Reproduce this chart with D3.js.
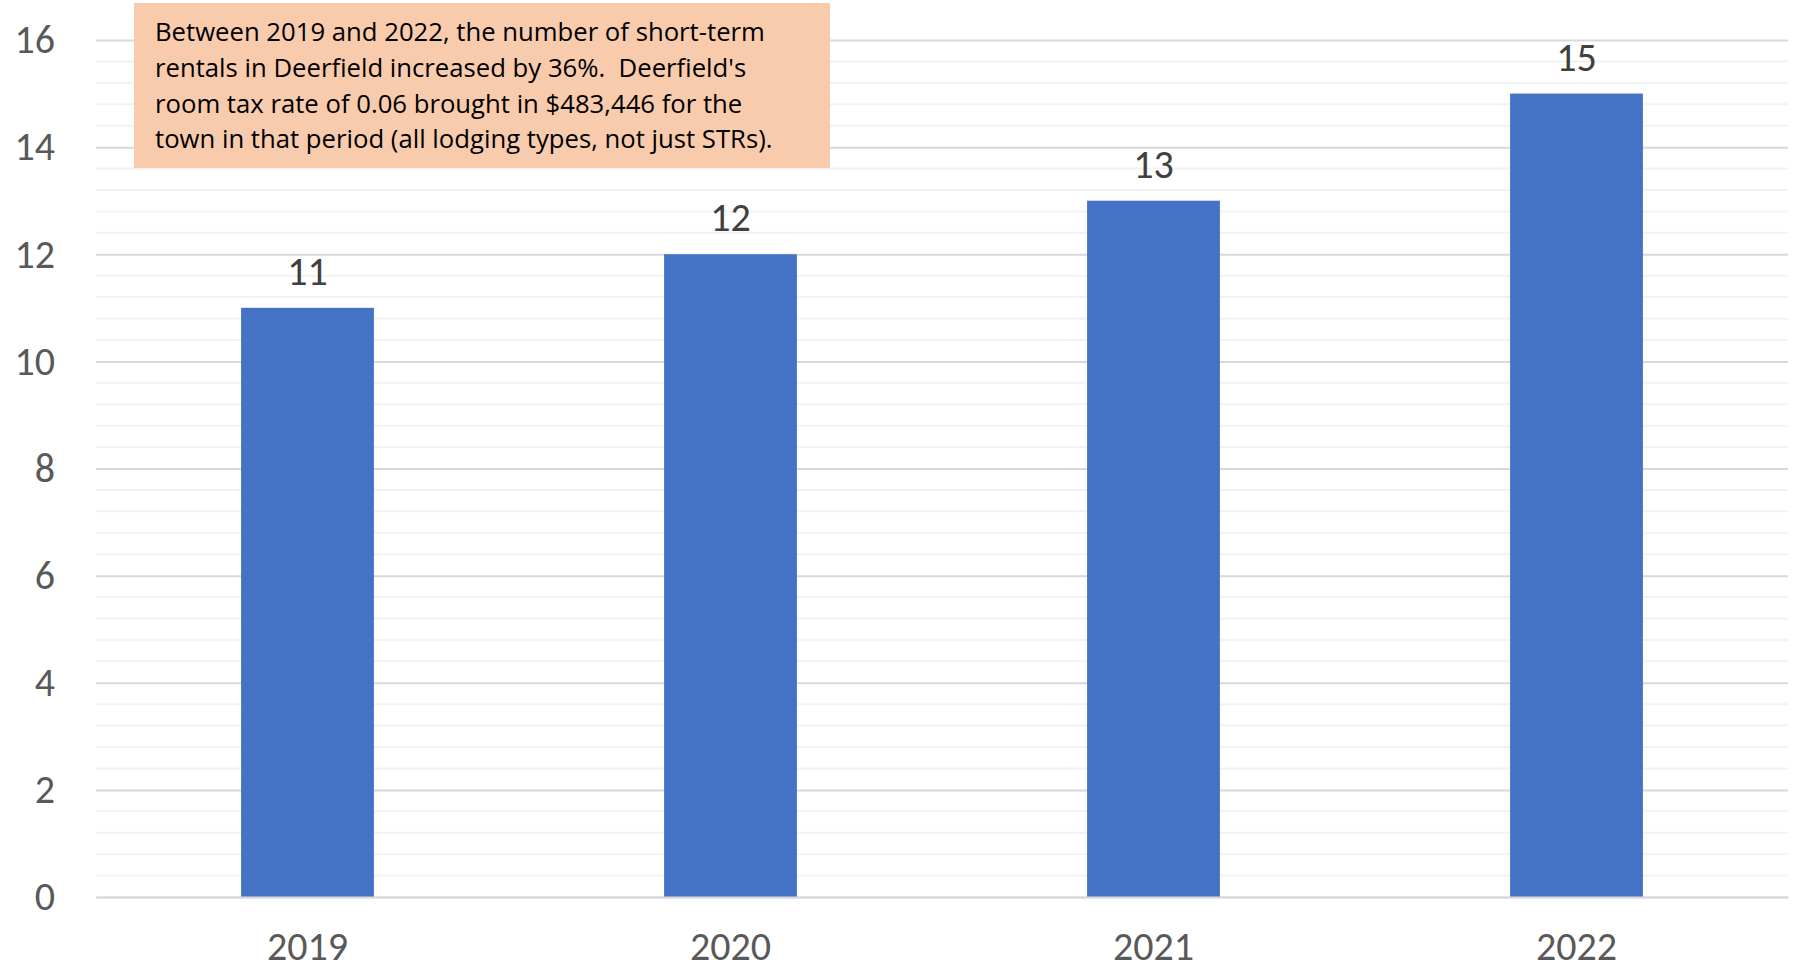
<!DOCTYPE html>
<html>
<head>
<meta charset="utf-8">
<script src="https://cdn.jsdelivr.net/npm/d3@7"></script>
<style>
  html, body { margin: 0; padding: 0; background: #fff; }
  svg { display: block; font-family: Calibri, Carlito, Lato, "Open Sans", sans-serif; }
</style>
</head>
<body>
<script>
// chart data
const years = ["2019", "2020", "2021", "2022"];
const rentals = [11, 12, 13, 15];
const yTicks = [0, 2, 4, 6, 8, 10, 12, 14, 16];
const noteLines = [
  "Between 2019 and 2022, the number of short-term",
  "rentals in Deerfield increased by 36%.  Deerfield's",
  "room tax rate of 0.06 brought in $483,446 for the",
  "town in that period (all lodging types, not just STRs)."
];

const width = 1795;
const height = 970;
const margin = {top: 40, right: 7, bottom: 73, left: 96};
const labelSize = 40;

const svg = d3.create("svg")
  .attr("width", width)
  .attr("height", height)
  .attr("viewBox", `0 0 ${width} ${height}`);

// scales
const x = d3.scaleBand()
  .domain(years)
  .range([margin.left, width - margin.right])
  .paddingInner(0.686)
  .paddingOuter(0.343);

const y = d3.scaleLinear()
  .domain([0, 16])
  .range([height - margin.bottom, margin.top]);

// minor gridlines every 0.4
const minor = d3.range(0, 16.001, 0.4).filter(v => Math.abs(v / 2 - Math.round(v / 2)) > 1e-6);
svg.append("g")
  .selectAll("line")
  .data(minor)
  .join("line")
  .attr("x1", margin.left)
  .attr("x2", width - margin.right)
  .attr("y1", d => y(d))
  .attr("y2", d => y(d))
  .attr("stroke", "#f2f2f2")
  .attr("stroke-width", 2);

// major gridlines + y labels via axis
const yAxis = svg.append("g")
  .attr("transform", `translate(${margin.left},0)`)
  .call(d3.axisLeft(y).tickValues(yTicks).tickSize(-(width - margin.left - margin.right)).tickPadding(41))
  .attr("font-family", null)
  .attr("font-size", labelSize);
yAxis.select(".domain").remove();
yAxis.selectAll(".tick line").attr("stroke", "#d9d9d9").attr("stroke-width", 2);
yAxis.selectAll(".tick text").attr("fill", "#595959");

// bars
svg.append("g")
  .selectAll("rect")
  .data(years.map((yr, i) => ({yr, v: rentals[i]})))
  .join("rect")
  .attr("x", d => x(d.yr))
  .attr("y", d => y(d.v))
  .attr("width", x.bandwidth())
  .attr("height", d => y(0) - y(d.v))
  .attr("fill", "#4472c4");

// value labels
svg.append("g")
  .selectAll("text")
  .data(years.map((yr, i) => ({yr, v: rentals[i]})))
  .join("text")
  .attr("x", d => x(d.yr) + x.bandwidth() / 2)
  .attr("y", d => y(d.v) - 23)
  .attr("text-anchor", "middle")
  .attr("fill", "#404040")
  .attr("font-size", labelSize)
  .text(d => d.v);

// x axis
const xAxis = svg.append("g")
  .attr("transform", `translate(0,${y(0)})`)
  .call(d3.axisBottom(x).tickSize(0).tickPadding(35))
  .attr("font-family", null)
  .attr("font-size", labelSize);
xAxis.select(".domain").attr("stroke", "#d9d9d9").attr("stroke-width", 2);
xAxis.selectAll(".tick text").attr("fill", "#595959");

// annotation box
const note = svg.append("g");
note.append("rect")
  .attr("x", 134)
  .attr("y", 3)
  .attr("width", 696)
  .attr("height", 165)
  .attr("fill", "#f8cbad");

document.body.append(svg.node());

const noteText = note.selectAll("text")
  .data(noteLines)
  .join("text")
  .attr("x", 155)
  .attr("y", (d, i) => 41 + i * 35.8)
  .attr("fill", "#000")
  .attr("font-family", "'Open Sans', Lato, sans-serif")
  .attr("font-size", 25)
  .style("white-space", "pre")
  .text(d => d);

// fit the first line to the width it has in the original
const firstLen = noteText.node().getComputedTextLength();
noteText.attr("font-size", 25 * 610 / firstLen);
</script>
</body>
</html>
